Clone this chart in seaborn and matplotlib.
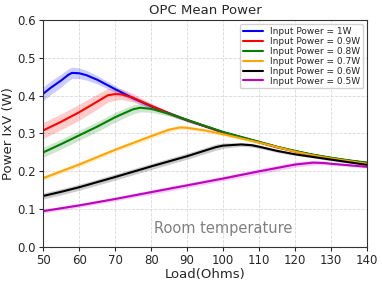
import numpy as np
import pandas as pd
import matplotlib
matplotlib.use('Agg')
import matplotlib.pyplot as plt
import seaborn as sns

# Load (Ohms) and mean power (W) per input power, with band half-width
labels = ['Input Power = 1W', 'Input Power = 0.9W', 'Input Power = 0.8W',
          'Input Power = 0.7W', 'Input Power = 0.6W', 'Input Power = 0.5W']
colors = ['blue', 'red', 'green', 'orange', 'black', 'm']

x_1w = [50, 52, 55, 57, 58, 60, 62, 65, 70, 75, 80, 85, 90, 95, 100, 105, 110, 115, 120, 125, 130, 135, 140]
p_1w = [0.405, 0.42, 0.44, 0.455, 0.46, 0.459, 0.454, 0.442, 0.417, 0.393, 0.372, 0.353, 0.335, 0.319, 0.303, 0.29, 0.277, 0.264, 0.253, 0.243, 0.235, 0.228, 0.222]
b_1w = [0.018, 0.018, 0.017, 0.016, 0.015, 0.014, 0.013, 0.011, 0.009, 0.007, 0.006, 0.005, 0.004, 0.003, 0.003, 0.003, 0.003, 0.003, 0.003, 0.003, 0.003, 0.003, 0.003]

x_09w = [50, 55, 60, 65, 68, 70, 72, 75, 80, 85, 90, 95, 100, 105, 110, 115, 120, 125, 130, 135, 140]
p_09w = [0.308, 0.331, 0.356, 0.384, 0.401, 0.404, 0.403, 0.394, 0.373, 0.353, 0.335, 0.319, 0.303, 0.29, 0.277, 0.264, 0.253, 0.243, 0.235, 0.228, 0.222]
b_09w = [0.021, 0.021, 0.021, 0.02, 0.018, 0.016, 0.014, 0.011, 0.007, 0.005, 0.004, 0.003, 0.003, 0.003, 0.003, 0.003, 0.003, 0.003, 0.003, 0.003, 0.003]

x_08w = [50, 55, 60, 65, 70, 75, 77, 80, 85, 90, 95, 100, 105, 110, 115, 120, 125, 130, 135, 140]
p_08w = [0.25, 0.272, 0.295, 0.318, 0.343, 0.364, 0.368, 0.365, 0.352, 0.336, 0.32, 0.304, 0.291, 0.278, 0.265, 0.254, 0.244, 0.236, 0.229, 0.223]
b_08w = [0.013, 0.013, 0.013, 0.013, 0.013, 0.012, 0.011, 0.009, 0.006, 0.004, 0.003, 0.003, 0.003, 0.003, 0.003, 0.003, 0.003, 0.003, 0.003, 0.003]

x_07w = [50, 55, 60, 70, 80, 85, 88, 90, 95, 100, 105, 110, 115, 120, 125, 130, 135, 140]
p_07w = [0.182, 0.2, 0.218, 0.257, 0.293, 0.31, 0.316, 0.315, 0.308, 0.298, 0.287, 0.276, 0.264, 0.252, 0.242, 0.234, 0.227, 0.22]
b_07w = [0.006, 0.006, 0.006, 0.006, 0.006, 0.006, 0.005, 0.005, 0.004, 0.004, 0.003, 0.003, 0.003, 0.003, 0.003, 0.003, 0.003, 0.003]

x_06w = [50, 55, 60, 70, 80, 90, 98, 100, 105, 108, 110, 115, 120, 125, 130, 135, 140]
p_06w = [0.135, 0.146, 0.158, 0.185, 0.213, 0.24, 0.264, 0.268, 0.271, 0.269, 0.265, 0.254, 0.245, 0.238, 0.231, 0.224, 0.217]
b_06w = [0.008, 0.008, 0.008, 0.008, 0.008, 0.008, 0.008, 0.007, 0.005, 0.005, 0.004, 0.004, 0.003, 0.003, 0.003, 0.003, 0.003]

x_05w = [50, 60, 70, 80, 90, 100, 110, 120, 125, 128, 130, 135, 140]
p_05w = [0.095, 0.11, 0.127, 0.145, 0.163, 0.181, 0.2, 0.218, 0.223, 0.222, 0.22, 0.216, 0.212]
b_05w = [0.005, 0.005, 0.005, 0.006, 0.006, 0.006, 0.007, 0.007, 0.006, 0.005, 0.004, 0.003, 0.003]

series = [(x_1w, p_1w, b_1w), (x_09w, p_09w, b_09w), (x_08w, p_08w, b_08w),
          (x_07w, p_07w, b_07w), (x_06w, p_06w, b_06w), (x_05w, p_05w, b_05w)]

sns.set_style('ticks')
plt.rcParams['font.family'] = ['DejaVu Sans']

fig, ax = plt.subplots(figsize=(3.82, 2.84), dpi=100)
fig.subplots_adjust(left=0.113, right=0.961, top=0.930, bottom=0.130)

for (x, p, b), lab, c in zip(series, labels, colors):
    df = pd.DataFrame({'Load': x, 'Power': p})
    sns.lineplot(data=df, x='Load', y='Power', color=c, lw=1.5, label=lab, ax=ax)
    ax.fill_between(x, np.array(p) - np.array(b), np.array(p) + np.array(b),
                    color=c, alpha=0.2, lw=0)

ax.set_xlim(50, 140)
ax.set_ylim(0, 0.6)
ax.set_xticks(range(50, 141, 10))
ax.set_yticks([0.0, 0.1, 0.2, 0.3, 0.4, 0.5, 0.6])
ax.grid(True, ls='--', color='#d8d8d8', lw=0.6)
ax.tick_params(labelsize=8.5, length=3, width=0.8, pad=2)
for s in ax.spines.values():
    s.set_visible(True)
    s.set_color('#333333')
    s.set_linewidth(0.8)

ax.set_title('OPC Mean Power', fontsize=9.5, pad=4)
ax.set_xlabel('Load(Ohms)', fontsize=9.5, labelpad=1)
ax.set_ylabel('Power IxV (W)', fontsize=9.5, labelpad=2)
ax.text(100, 0.03, 'Room temperature', fontsize=10.5, color='gray', ha='center', va='bottom')

ax.legend(loc='upper right', fontsize=6.5, handlelength=2.2, labelspacing=0.1,
          borderpad=0.3, handletextpad=0.8, frameon=True, framealpha=0.9)

plt.savefig('out.png', dpi=100)
